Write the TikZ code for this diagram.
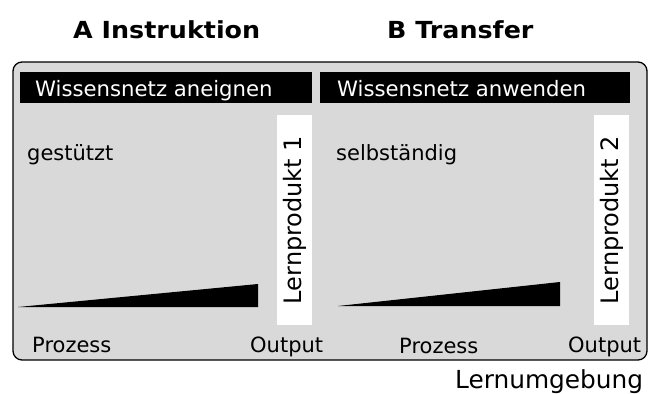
\documentclass[tikz,border=0pt]{standalone}
\usepackage{fontspec}
\setmainfont{DejaVu Sans}
\begin{document}
\begin{tikzpicture}[x=1pt,y=-1pt,
  body/.style={inner sep=0pt, anchor=base west, font=\fontsize{21}{25}\selectfont},
  big/.style={inner sep=0pt, anchor=base west, font=\fontsize{24.8}{28}\selectfont},
  title/.style={inner sep=0pt, anchor=base west, font=\bfseries\fontsize{23.5}{28}\selectfont},
  bar/.style={fill=black, draw=none, inner sep=0pt, anchor=north west, minimum height=31pt},
  bartext/.style={inner sep=0pt, anchor=base west, text=white, font=\fontsize{21.2}{25}\selectfont},
  prodbox/.style={fill=white, draw=none, rotate=90, inner sep=0pt, minimum width=210pt, minimum height=35pt, font=\fontsize{24}{28}\selectfont},
  wedge/.style={fill=black}
]
\useasboundingbox (0,0) rectangle (649,394);
% outer environment box
\draw[fill=black!15, line width=1.3pt, rounded corners=9pt] (13,62) rectangle (647,360);
% titles
\node[title] (tA) at (73,38) {\scalebox{1.08}[1]{A Instruktion}};
\node[title] (tB) at (387,38) {\scalebox{1.08}[1]{B Transfer}};
% black bars
\node[bar, minimum width=292pt] (barA) at (20,72) {};
\node[bar, minimum width=310pt] (barB) at (320,72) {};
\node[bartext] (wA) at (35,96) {Wissensnetz aneignen};
\node[bartext] (wB) at (337,96) {Wissensnetz anwenden};
% labels
\node[body] (gest) at (27,160) {gestützt};
\node[body] (selb) at (336,160) {selbständig};
% product boxes
\node[prodbox] (lp1) at (294.5,220) {Lernprodukt 1};
\node[prodbox] (lp2) at (611.5,220) {Lernprodukt 2};
% wedges
\fill[wedge] (18,307) -- (258,284) -- (258,307) -- cycle;
\fill[wedge] (338,306) -- (560,282) -- (560,306) -- cycle;
% axis labels
\node[body] (p1) at (32,352) {Prozess};
\node[body] (o1) at (250,352) {Output};
\node[body] (p2) at (399,353) {Prozess};
\node[body] (o2) at (568,352) {Output};
\node[big] (lu) at (455,388) {Lernumgebung};
\end{tikzpicture}
\end{document}
